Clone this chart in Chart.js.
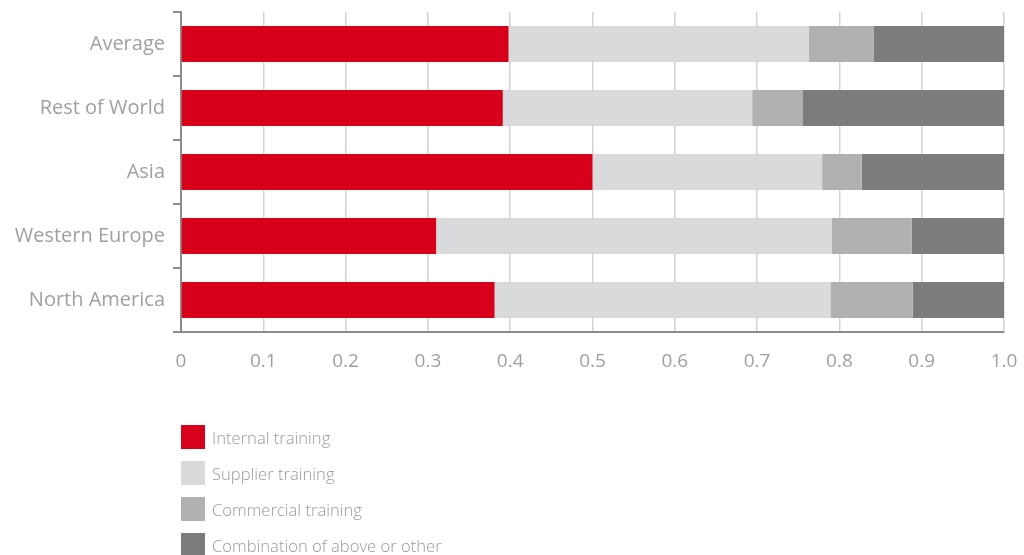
<!DOCTYPE html>
<html>
<head>
<meta charset="utf-8">
<script src="https://cdn.jsdelivr.net/npm/chart.js@4"></script>
<style>
  html, body { margin:0; padding:0; background:#ffffff; }
  #wrap { position:relative; width:1024px; height:555px; }
  #legend { position:absolute; left:181px; top:425px; font-family:"Open Sans", sans-serif; font-weight:300; font-size:16.6px; color:#9a9a9a; }
  .item { display:flex; align-items:center; height:24px; margin-bottom:12px; }
  .sw { width:24px; height:24px; margin-right:7px; }
</style>
</head>
<body>
<div id="wrap">
  <canvas id="c" width="1024" height="555"></canvas>
  <div id="legend"></div>
</div>
<script>
const categories = ['Average', 'Rest of World', 'Asia', 'Western Europe', 'North America'];
const seriesNames = ['Internal training', 'Supplier training', 'Commercial training', 'Combination of above or other'];
const internalTraining   = [0.398, 0.391, 0.500, 0.310, 0.381];
const supplierTraining   = [0.365, 0.303, 0.279, 0.481, 0.408];
const commercialTraining = [0.079, 0.061, 0.048, 0.097, 0.100];
const combinationOther   = [0.158, 0.245, 0.173, 0.112, 0.111];
const xTickLabels = ['0', '0.1', '0.2', '0.3', '0.4', '0.5', '0.6', '0.7', '0.8', '0.9', '1.0'];
const colors = ['#d7001b', '#d9dadb', '#b0b1b2', '#7b7c7e'];

const seriesValues = [internalTraining, supplierTraining, commercialTraining, combinationOther];
const FONT = '"Open Sans", sans-serif';
const TXT = '#a0a0a0';

new Chart(document.getElementById('c'), {
  type: 'bar',
  data: {
    labels: categories,
    datasets: seriesValues.map((vals, i) => ({
      label: seriesNames[i],
      data: vals,
      backgroundColor: colors[i],
      borderWidth: 0,
      barPercentage: 0.56,
      categoryPercentage: 1.0
    }))
  },
  options: {
    indexAxis: 'y',
    responsive: false,
    animation: false,
    layout: { padding: { top: 12, right: 20, left: 0, bottom: 0 } },
    plugins: { legend: { display: false }, tooltip: { enabled: false } },
    scales: {
      x: {
        stacked: true,
        min: 0, max: 1,
        afterFit: s => { s.height = 223; s.paddingLeft = 0; s.paddingRight = 0; },
        grid: { color: '#d2d2d2', lineWidth: 1.5, drawTicks: false },
        border: { display: true, color: '#8c8c8c', width: 2 },
        ticks: {
          stepSize: 0.1,
          padding: 18,
          color: TXT,
          font: { family: FONT, size: 19 },
          callback: (v, idx) => xTickLabels[idx]
        }
      },
      y: {
        stacked: true,
        afterFit: s => { s.width = 181; s.paddingTop = 0; s.paddingBottom = 0; },
        grid: { offset: true, drawOnChartArea: false, drawTicks: true, tickLength: 8, color: '#8c8c8c', lineWidth: 2 },
        border: { display: true, color: '#8c8c8c', width: 2 },
        ticks: {
          padding: 8,
          color: TXT,
          font: { family: FONT, size: 20 }
        }
      }
    }
  }
});

const lg = document.getElementById('legend');
seriesNames.forEach((n, i) => {
  const d = document.createElement('div');
  d.className = 'item';
  const sw = document.createElement('div');
  sw.className = 'sw';
  sw.style.background = colors[i];
  const t = document.createElement('span');
  t.textContent = n;
  d.appendChild(sw); d.appendChild(t);
  lg.appendChild(d);
});
</script>
</body>
</html>
